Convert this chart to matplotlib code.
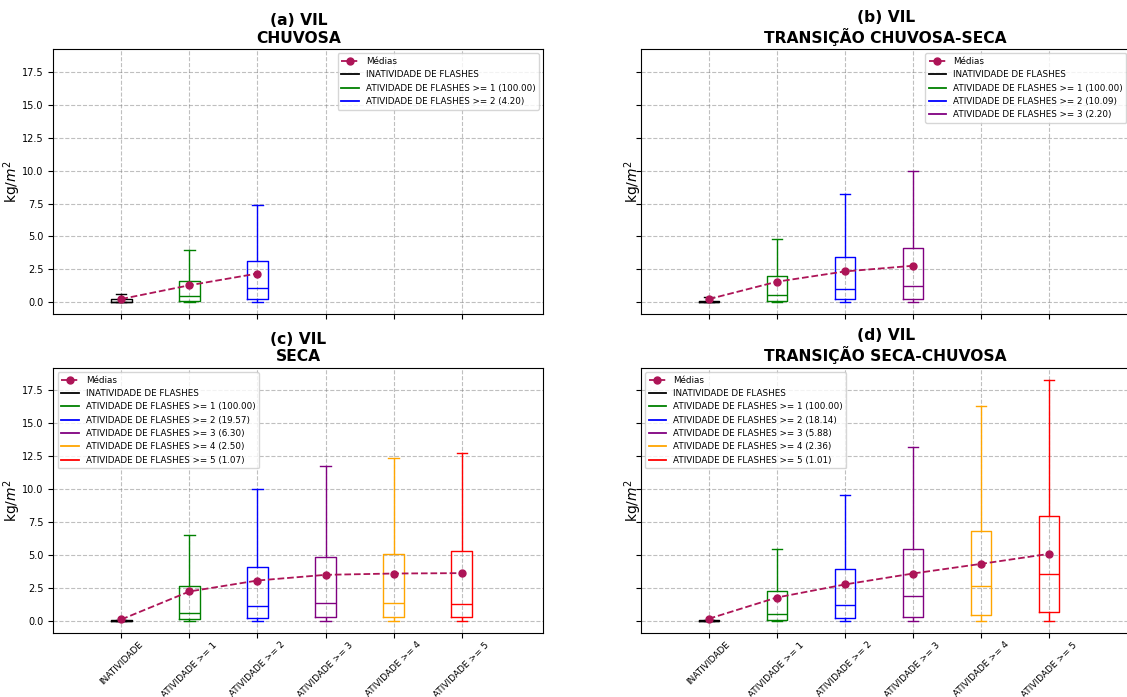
import matplotlib
matplotlib.use("Agg")
import matplotlib.pyplot as plt
from matplotlib.lines import Line2D

# Categories on the x axis
categories = ["INATIVIDADE", "ATIVIDADE >= 1", "ATIVIDADE >= 2",
              "ATIVIDADE >= 3", "ATIVIDADE >= 4", "ATIVIDADE >= 5"]
colors = ["black", "green", "blue", "purple", "orange", "red"]
mean_color = "#AD1457"

titles = ["(a) VIL\nCHUVOSA", "(b) VIL\nTRANSIÇÃO CHUVOSA-SECA",
          "(c) VIL\nSECA", "(d) VIL\nTRANSIÇÃO SECA-CHUVOSA"]

# Box statistics per season (kg/m²)
chuvosa_q1 = [0.02, 0.12, 0.26]
chuvosa_med = [0.05, 0.51, 1.10]
chuvosa_q3 = [0.26, 1.66, 3.11]
chuvosa_whislo = [0.0, 0.0, 0.0]
chuvosa_whishi = [0.66, 3.98, 7.40]
chuvosa_mean = [0.26, 1.30, 2.19]
chuvosa_pct = [100.00, 4.20]

trans_cs_q1 = [0.01, 0.13, 0.25, 0.28]
trans_cs_med = [0.03, 0.56, 1.01, 1.26]
trans_cs_q3 = [0.13, 2.00, 3.41, 4.14]
trans_cs_whislo = [0.0, 0.0, 0.0, 0.0]
trans_cs_whishi = [0.38, 4.80, 8.21, 9.95]
trans_cs_mean = [0.25, 1.57, 2.35, 2.78]
trans_cs_pct = [100.00, 10.09, 2.20]

seca_q1 = [0.0, 0.15, 0.23, 0.30, 0.30, 0.30]
seca_med = [0.02, 0.63, 1.14, 1.36, 1.36, 1.31]
seca_q3 = [0.08, 2.70, 4.14, 4.90, 5.10, 5.28]
seca_whislo = [0.0, 0.0, 0.0, 0.0, 0.0, 0.0]
seca_whishi = [0.10, 6.54, 10.05, 11.79, 12.35, 12.75]
seca_mean = [0.13, 2.25, 3.08, 3.51, 3.61, 3.64]
seca_pct = [100.00, 19.57, 6.30, 2.50, 1.07]

trans_sc_q1 = [0.0, 0.08, 0.20, 0.30, 0.48, 0.73]
trans_sc_med = [0.02, 0.56, 1.19, 1.87, 2.63, 3.61]
trans_sc_q3 = [0.05, 2.25, 3.94, 5.48, 6.82, 8.00]
trans_sc_whislo = [0.0, 0.0, 0.0, 0.0, 0.0, 0.0]
trans_sc_whishi = [0.08, 5.50, 9.60, 13.18, 16.34, 18.30]
trans_sc_mean = [0.18, 1.79, 2.78, 3.61, 4.34, 5.10]
trans_sc_pct = [100.00, 18.14, 5.88, 2.36, 1.01]

panels = [
    (chuvosa_q1, chuvosa_med, chuvosa_q3, chuvosa_whislo, chuvosa_whishi, chuvosa_mean, chuvosa_pct, "upper right"),
    (trans_cs_q1, trans_cs_med, trans_cs_q3, trans_cs_whislo, trans_cs_whishi, trans_cs_mean, trans_cs_pct, "upper right"),
    (seca_q1, seca_med, seca_q3, seca_whislo, seca_whishi, seca_mean, seca_pct, "upper left"),
    (trans_sc_q1, trans_sc_med, trans_sc_q3, trans_sc_whislo, trans_sc_whishi, trans_sc_mean, trans_sc_pct, "upper left"),
]

fig, axes = plt.subplots(2, 2, figsize=(11.27, 6.97), dpi=100, sharex=True, sharey=True)
W, H = 1127.0, 697.0
positions_px = [
    (53.3, 49.0), (640.7, 49.0),
    (53.3, 367.7), (640.7, 367.7),
]
ax_w, ax_h = 490.0, 265.5
ylabel_x = [-0.061, 0.006, -0.061, 0.006]

for idx, ax in enumerate(axes.flat):
    x0, y0 = positions_px[idx]
    ax.set_position([x0 / W, 1 - (y0 + ax_h) / H, ax_w / W, ax_h / H])

    q1, med, q3, wlo, whi, means, pct, loc = panels[idx]
    n = len(q1)
    pos = list(range(1, n + 1))
    for i in range(n):
        c = colors[i]
        stat = dict(q1=q1[i], med=med[i], q3=q3[i], whislo=wlo[i], whishi=whi[i], fliers=[])
        ax.bxp([stat], positions=[pos[i]], widths=0.3, manage_ticks=False,
               boxprops=dict(color=c, linewidth=1.0),
               medianprops=dict(color=c, linewidth=1.0),
               whiskerprops=dict(color=c, linewidth=1.0),
               capprops=dict(color=c, linewidth=1.0))
    ax.plot(pos, means, linestyle="--", marker="o", color=mean_color,
            markersize=5, linewidth=1.3, zorder=5)

    handles = [Line2D([], [], linestyle="--", marker="o", color=mean_color,
                      markersize=5, linewidth=1.3, label="Médias"),
               Line2D([], [], color=colors[0], linewidth=1.3,
                      label="INATIVIDADE DE FLASHES")]
    for k, p in enumerate(pct):
        handles.append(Line2D([], [], color=colors[k + 1], linewidth=1.3,
                              label=f"ATIVIDADE DE FLASHES >= {k + 1} ({p:.2f})"))
    ax.legend(handles=handles, loc=loc, fontsize=6.3)

    ax.set_title(titles[idx], fontsize=11.2, fontweight="bold", pad=4.5)
    ax.grid(True, linestyle="--", color="gray", alpha=0.5, linewidth=0.8)
    ax.set_axisbelow(True)
    ax.set_ylabel("kg/$m^2$", fontsize=10)
    ax.yaxis.set_label_coords(ylabel_x[idx], 0.5)
    ax.tick_params(labelsize=7)
    ax.tick_params(axis="x", pad=1.5)

axes[0, 0].set_xlim(0, 7.2)
axes[0, 0].set_ylim(-0.915, 19.215)
axes[0, 0].set_xticks(range(1, len(categories) + 1))
for ax in axes[1]:
    ax.set_xticks(range(1, len(categories) + 1))
    ax.set_xticklabels(categories, rotation=45, fontsize=6.5)

fig.savefig("out.png", dpi=100)
